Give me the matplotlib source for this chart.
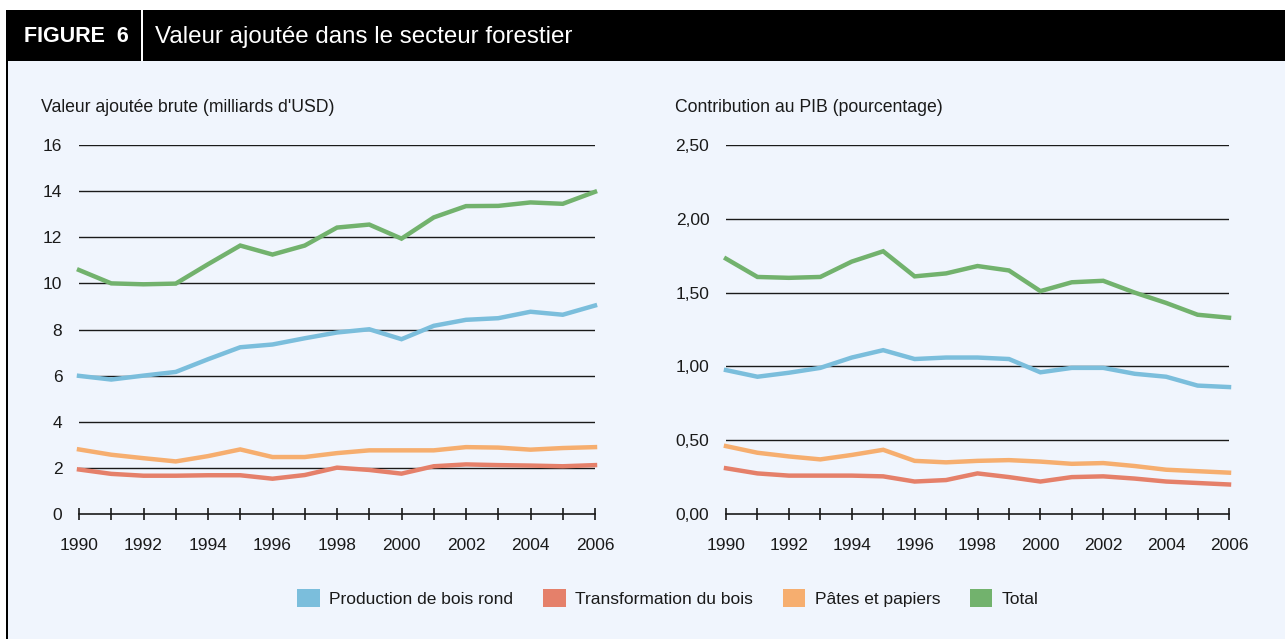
import matplotlib
matplotlib.use("Agg")
import matplotlib.pyplot as plt
from matplotlib.patches import Rectangle, Patch
from matplotlib.ticker import FuncFormatter, MultipleLocator

plt.rcParams['font.family'] = ['Liberation Sans', 'DejaVu Sans']

years = list(range(1990, 2007))

# Valeur ajoutée brute (milliards d'USD)
va_bois_rond = [5.99, 5.83, 6.00, 6.16, 6.71, 7.23, 7.35, 7.62, 7.87, 8.01, 7.58, 8.16, 8.42, 8.49, 8.77, 8.64, 9.04]
va_transformation = [1.93, 1.74, 1.66, 1.66, 1.68, 1.68, 1.53, 1.69, 2.01, 1.91, 1.75, 2.07, 2.15, 2.12, 2.10, 2.07, 2.12]
va_pates = [2.80, 2.57, 2.42, 2.28, 2.51, 2.80, 2.47, 2.47, 2.64, 2.76, 2.76, 2.76, 2.90, 2.88, 2.79, 2.86, 2.90]
va_total = [10.58, 10.00, 9.96, 9.99, 10.83, 11.64, 11.25, 11.64, 12.42, 12.55, 11.94, 12.86, 13.35, 13.36, 13.51, 13.45, 13.97]

# Contribution au PIB (pourcentage)
pib_bois_rond = [0.975, 0.93, 0.957, 0.99, 1.06, 1.11, 1.05, 1.06, 1.06, 1.05, 0.96, 0.99, 0.99, 0.95, 0.93, 0.87, 0.86]
pib_transformation = [0.31, 0.275, 0.26, 0.26, 0.26, 0.255, 0.22, 0.23, 0.275, 0.25, 0.22, 0.25, 0.255, 0.24, 0.22, 0.21, 0.20]
pib_pates = [0.46, 0.415, 0.39, 0.37, 0.40, 0.435, 0.36, 0.35, 0.36, 0.365, 0.355, 0.34, 0.345, 0.325, 0.30, 0.29, 0.28]
pib_total = [1.73, 1.606, 1.60, 1.606, 1.71, 1.78, 1.61, 1.63, 1.68, 1.65, 1.51, 1.57, 1.58, 1.50, 1.43, 1.35, 1.33]

series_names = ["Production de bois rond", "Transformation du bois", "Pâtes et papiers", "Total"]
colors = ["#7BBEDC", "#E5806A", "#F6AE6F", "#72B26D"]

left_ticks = [0, 2, 4, 6, 8, 10, 12, 14, 16]
right_ticks = [0.0, 0.5, 1.0, 1.5, 2.0, 2.5]
year_labels = [str(y) for y in range(1990, 2007, 2)]

W, H = 1285, 639
fig = plt.figure(figsize=(W / 100, H / 100), dpi=100)
fig.patch.set_facecolor("white")

def fx(px):
    return px / W

def fy(py):
    return 1 - py / H

# light background panel
fig.patches.append(Rectangle((fx(7), 0), 1 - fx(7), fy(10), transform=fig.transFigure,
                             facecolor="#F0F5FD", edgecolor="none", zorder=-10))
# header bar
fig.patches.append(Rectangle((fx(7), fy(61)), 1 - fx(7), fy(10) - fy(61), transform=fig.transFigure,
                             facecolor="black", edgecolor="none", zorder=-5))
# left border
fig.patches.append(Rectangle((fx(6), 0), fx(2.2), fy(10), transform=fig.transFigure,
                             facecolor="black", edgecolor="none", zorder=-4))
# divider in header
fig.patches.append(Rectangle((fx(141), fy(61)), fx(2), fy(10) - fy(61), transform=fig.transFigure,
                             facecolor="white", edgecolor="none", zorder=-3))

fig.text(fx(24), fy(37), "FIGURE  6", color="white", fontsize=15.5, fontweight="bold",
         va="center", ha="left")
fig.text(fx(155), fy(37), "Valeur ajoutée dans le secteur forestier", color="white",
         fontsize=17.4, va="center", ha="left")

ax1 = fig.add_axes([fx(79), fy(514), fx(595) - fx(79), fy(145) - fy(514)])
ax2 = fig.add_axes([fx(726), fy(514), fx(1229) - fx(726), fy(145) - fy(514)])

left_data = [va_bois_rond, va_transformation, va_pates, va_total]
right_data = [pib_bois_rond, pib_transformation, pib_pates, pib_total]

for ax, data, ticks, fmt in [
    (ax1, left_data, left_ticks, lambda v, p: f"{v:.0f}"),
    (ax2, right_data, right_ticks, lambda v, p: f"{v:.2f}".replace(".", ",")),
]:
    ax.set_facecolor("none")
    for vals, c in zip(data, colors):
        ax.plot(years, vals, color=c, lw=3.2, solid_joinstyle="miter", zorder=3, clip_on=False)
    ax.set_xlim(1990, 2006)
    ax.set_ylim(ticks[0], ticks[-1])
    ax.set_yticks(ticks)
    ax.yaxis.set_major_formatter(FuncFormatter(fmt))
    for t in ticks[1:]:
        ax.axhline(t, color="#1a1a1a", lw=1.0, zorder=1)
    ax.set_xticks(range(1990, 2007, 2))
    ax.set_xticklabels(year_labels)
    ax.xaxis.set_minor_locator(MultipleLocator(1))
    for s in ["top", "right", "left"]:
        ax.spines[s].set_visible(False)
    ax.spines["bottom"].set_color("#1a1a1a")
    ax.spines["bottom"].set_linewidth(1.2)
    ax.spines["bottom"].set_zorder(2)
    ax.tick_params(axis="y", length=0, pad=12, labelsize=12.5, labelcolor="#1a1a1a")
    ax.tick_params(axis="x", which="both", direction="inout", length=9, width=1.2,
                   color="#1a1a1a", pad=13, labelsize=12.5, labelcolor="#1a1a1a")

fig.text(fx(41), fy(108), "Valeur ajoutée brute (milliards d'USD)", fontsize=12.7,
         va="center", ha="left", color="#1a1a1a")
fig.text(fx(675), fy(108), "Contribution au PIB (pourcentage)", fontsize=12.7,
         va="center", ha="left", color="#1a1a1a")

handles = [Patch(facecolor=c, edgecolor="none") for c in colors]
fig.legend(handles, series_names, loc="center", bbox_to_anchor=(fx(668), fy(598)),
           ncol=4, frameon=False, fontsize=12.5, handlelength=1.3, handleheight=1.3,
           handletextpad=0.55, columnspacing=1.7, labelcolor="#1a1a1a")

fig.savefig("out.png", dpi=100, facecolor=fig.get_facecolor())
